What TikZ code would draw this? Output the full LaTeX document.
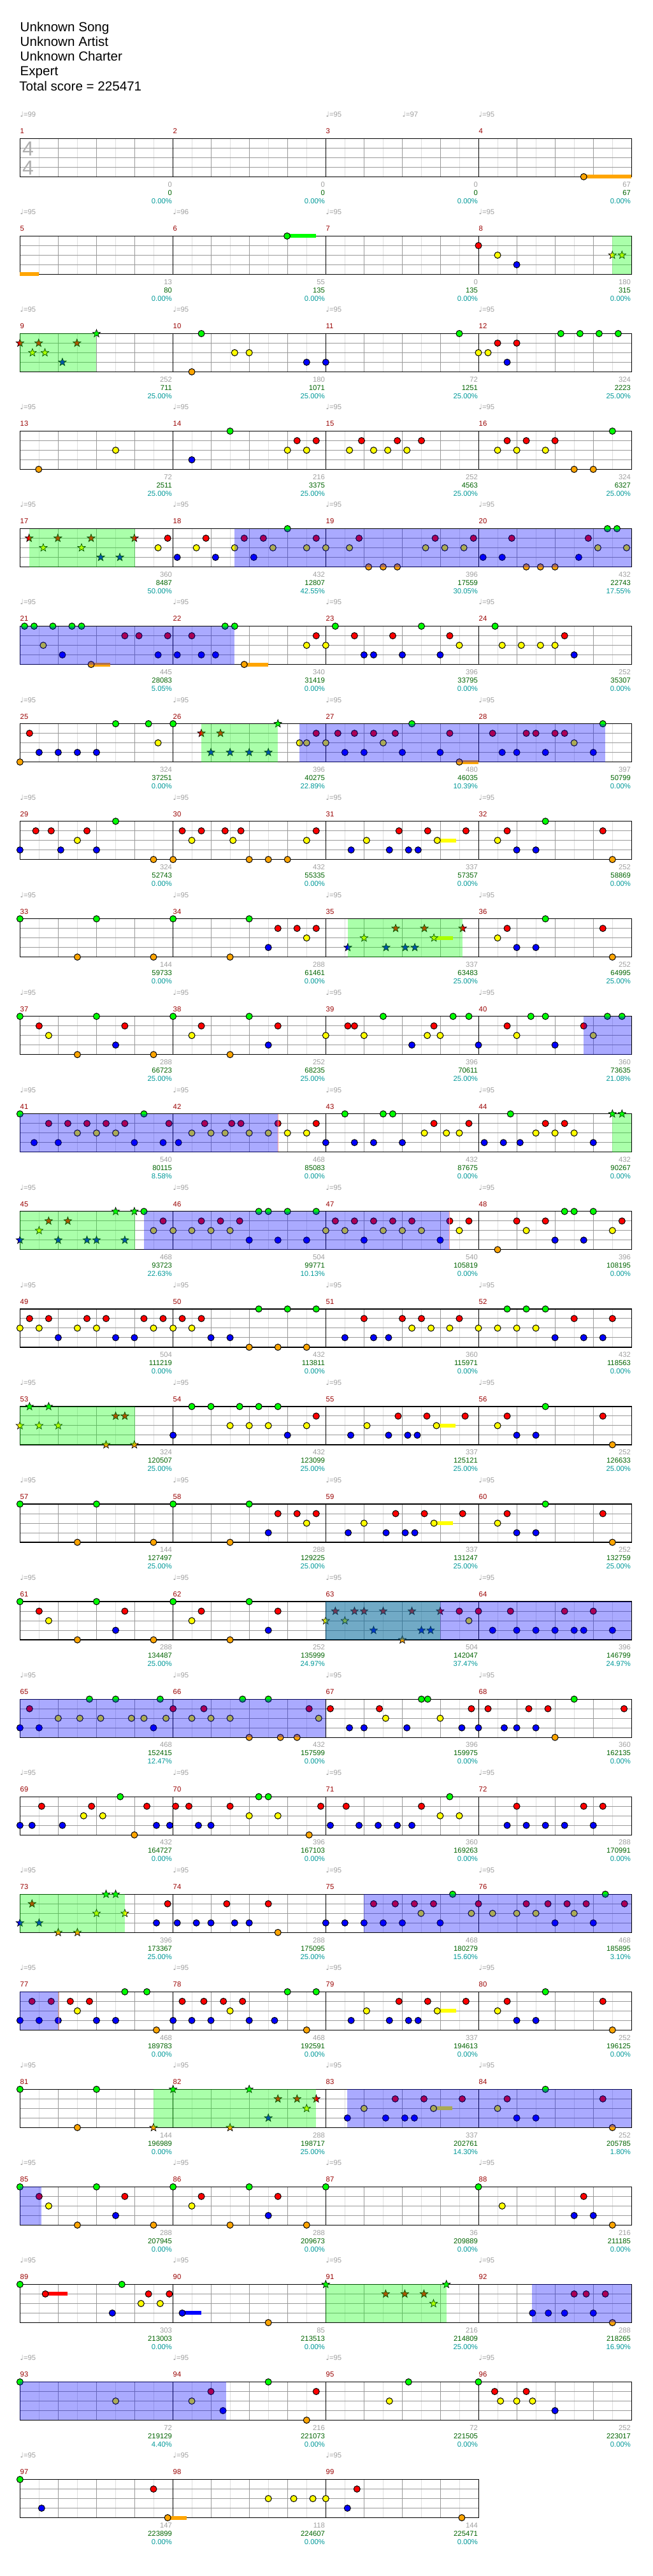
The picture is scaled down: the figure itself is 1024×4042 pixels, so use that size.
\documentclass[tikz,border=0pt]{standalone}
\usepackage{fontspec}
\setmainfont{Liberation Sans}
\newfontfamily\djv{DejaVu Sans}
\usetikzlibrary{shapes.geometric}
\definecolor{lane1}{RGB}{0,255,0}
\definecolor{lane2}{RGB}{255,0,0}
\definecolor{lane3}{RGB}{255,255,0}
\definecolor{lane4}{RGB}{0,0,255}
\definecolor{lane5}{RGB}{255,165,0}
\definecolor{mnum}{RGB}{153,0,0}
\definecolor{gtext}{RGB}{160,160,160}
\definecolor{stext}{RGB}{0,100,0}
\definecolor{ptext}{RGB}{0,153,153}
\definecolor{gridq}{RGB}{153,153,153}
\definecolor{gride}{RGB}{222,222,222}
\definecolor{soloend}{RGB}{255,160,160}
\tikzset{
  notehead/.style={draw=black,line width=0.5pt},
  starnote/.style={star,star points=5,star point ratio=2.4,minimum size=6.4pt,inner sep=0pt,draw=black,line width=0.35pt},
  spover/.style={fill=lane1,fill opacity=0.333},
  soloover/.style={fill=lane4,fill opacity=0.333},
  eline/.style={draw=gride,line width=0.5pt},
  qline/.style={draw=gridq,line width=0.5pt},
  measline/.style={draw=black,line width=0.5pt},
  endline/.style={draw=soloend,line width=0.5pt},
  staffborder/.style={draw=black,line width=0.6pt},
  smallfont/.style={inner sep=0pt,font=\fontsize{5.65}{6.5}\selectfont},
  mlab/.style={smallfont,anchor=base west,text=mnum},
  glab/.style={smallfont,anchor=base east,text=gtext},
  slab/.style={smallfont,anchor=base east,text=stext},
  plab/.style={smallfont,anchor=base east,text=ptext},
  tlab/.style={smallfont,anchor=base west,text=gtext},
  titlelab/.style={anchor=base west,inner sep=0pt,font=\fontsize{10.3}{12}\selectfont},
  tsig/.style={inner sep=0pt,text=gtext!85,font=\fontsize{16}{18}\selectfont}
}
\newcommand\setrow[1]{\pgfmathsetmacro\RT{217.3+153.05*(#1-1)}}
\newcommand\XX[1]{(31.33+(#1-48)*0.65306)}
\newcommand\LY[1]{(\RT+15*(#1-1))}
\newcommand\NoteL[2]{\foreach \z in {#2}{\filldraw[notehead,fill=lane#1] ({\XX{\z}},{\LY{#1}}) circle[radius=5];}}
\newcommand\StarL[2]{\foreach \z in {#2}{\node[starnote,fill=lane#1] at ({\XX{\z}},{\LY{#1}}) {};}}
\newcommand\SusL[3]{\fill[lane#3] ({\XX{#1}},{\LY{#3}-3}) rectangle ({\XX{#2}},{\LY{#3}+3});}
\newcommand\SPreg[2]{\fill[spover] ({\XX{#1}},{\RT}) rectangle ({\XX{#2}},{\RT+60});}
\newcommand\SOreg[2]{\fill[soloover] ({\XX{#1}},{\RT}) rectangle ({\XX{#2}},{\RT+60});}
\newcommand\SOend[1]{\draw[endline] ({\XX{#1}},{\RT+0.5}) -- ({\XX{#1}},{\RT+59.5});}
\newcommand\myGrid[1]{%
  \pgfmathsetmacro\WW{240*#1}%
  \pgfmathtruncatemacro\nk{8*#1-1}%
  \foreach \k in {1,3,...,\nk}{\draw[eline] ({31.33+30*\k},{\RT}) -- ++(0,60);}
  \foreach \k in {2,4,...,\nk}{\draw[qline] ({31.33+30*\k},{\RT}) -- ++(0,60);}
  \foreach \l in {1,2,3}{\draw[qline] (31.33,{\RT+15*\l}) -- ++(\WW,0);}
  \pgfmathtruncatemacro\nm{#1-1}%
  \foreach \k in {1,...,\nm}{\draw[measline] ({31.33+240*\k},{\RT}) -- ++(0,60);}
  \draw[staffborder] (31.33,{\RT}) rectangle ++(\WW,60);
}
\newcommand\myLabels[2]{%
  \foreach \g/\s/\p [count=\i from 0] in {#2}{%
    \pgfmathtruncatemacro\mm{#1+\i}%
    \node[mlab] (mn\mm) at ({31.33+240*\i},{\RT-7.6}) {\mm};
    \node[glab] (gs\mm) at ({30.3+240*(\i+1)},{\RT+75.8}) {\g};
    \node[slab] (sc\mm) at ({30.3+240*(\i+1)},{\RT+88.8}) {\s};
    \node[plab] (pc\mm) at ({30.3+240*(\i+1)},{\RT+101.8}) {\p\%};
  }}
\newcommand\myTempo[2]{\foreach \tx/\tv [count=\j] in {#2}{\node[tlab] (tp#1-\j) at ({31.33+\tx},{\RT-33.6}) {{\djv ♩}=\tv};}}
\begin{document}
\begin{tikzpicture}[x=0.5pt,y=-0.5pt]
\useasboundingbox (0,0) rectangle (1024,4042);
\fill[white] (0,0) rectangle (1024,4042);
\node[titlelab] (t1) at (31.3,49) {Unknown Song};
\node[titlelab] (t2) at (31.3,72.3) {Unknown Artist};
\node[titlelab] (t3) at (31.3,95.6) {Unknown Charter};
\node[titlelab] (t4) at (31.3,118.9) {Expert};
\node[titlelab] (t5) at (30,142.2) {Total score = 225471};
% ---------- row 1
\setrow{1}\myGrid{4}
\node[tsig] (ts1) at (44,233.5) {4};
\node[tsig] (ts2) at (44,263.5) {4};
\SusL{1403}{1518}{5}\NoteL{5}{1403}
\myTempo{1}{0/99,480/95,600/97,720/95}
\myLabels{1}{0/0/0.00,0/0/0.00,0/0/0.00,67/67/0.00}
% ---------- row 2
\setrow{2}\myGrid{4}
\SusL{48}{93}{5}\SusL{690}{759}{1}
\NoteL{1}{690}\NoteL{2}{1150}\NoteL{3}{1196}\NoteL{4}{1242}
\StarL{3}{1472,1495}\SPreg{1472}{1518}
\myTempo{2}{0/95,240/96,480/95,720/95}
\myLabels{5}{13/80/0.00,55/135/0.00,0/135/0.00,180/315/0.00}
% ---------- row 3
\setrow{3}\myGrid{4}
\NoteL{1}{484,1104,1348,1394,1440,1486}\NoteL{5}{461}\NoteL{3}{564,599,1150,1173}
\NoteL{4}{737,783,1219}\NoteL{2}{1196,1242}
\StarL{2}{48,93,185}\StarL{3}{78,108}\StarL{4}{150}\StarL{1}{232}
\SPreg{48}{232}
\myTempo{3}{0/95,240/95,480/95,720/95}
\myLabels{9}{252/711/25.00,180/1071/25.00,72/1251/25.00,324/2223/25.00}
% ---------- row 4
\setrow{4}\myGrid{4}
\NoteL{5}{93,1380,1426}\NoteL{3}{278,691,737,840,898,932,978,1196,1242,1311}
\NoteL{4}{461}\NoteL{1}{553,1472}\NoteL{2}{714,760,869,955,1013,1219,1265,1334}
\myTempo{4}{0/95,240/95,480/95,720/95}
\myLabels{13}{72/2511/25.00,216/3375/25.00,252/4563/25.00,324/6327/25.00}
% ---------- row 5
\setrow{5}\myGrid{4}
\NoteL{2}{403,495,587,633,760,863,1046,1138,1230,1414}
\NoteL{3}{380,472,564,656,737,783,840,1023,1069,1115,1437,1506}
\NoteL{4}{426,518,610,1161,1207,1391}\NoteL{1}{691,1460,1483}
\NoteL{5}{886,921,955,1265,1299,1334}
\StarL{2}{70,139,219,323}\StarL{3}{104,196}\StarL{4}{242,288}
\SPreg{70}{324}\SOreg{564}{1518}
\myTempo{5}{0/95,240/95,480/95,720/95}
\myLabels{17}{360/8487/50.00,432/12807/42.55,396/17559/30.05,432/22743/17.55}
% ---------- row 6
\setrow{6}\myGrid{4}
\SusL{219}{265}{5}\SusL{587}{645}{5}
\NoteL{1}{59,82,127,173,196,541,564,806,1013,1190}
\NoteL{3}{104,737,783,1104,1207,1253,1299,1334}
\NoteL{4}{150,380,426,484,518,875,898,967,1058,1380}
\NoteL{5}{219,587}\NoteL{2}{300,334,403,461,760,852,944,1081,1357}
\SOreg{48}{564}
\myTempo{6}{0/95,240/95,480/95,720/95}
\myLabels{21}{445/28083/5.05,340/31419/0.00,396/33795/0.00,252/35307/0.00}
% ---------- row 7
\setrow{7}\myGrid{4}
\SusL{1104}{1150}{5}
\NoteL{5}{48,1104}
\NoteL{2}{71,760,812,852,898,950,1081,1184,1265,1288,1334,1357}
\NoteL{4}{94,140,186,232,829,875,967,1058,1207,1242,1311,1426}
\NoteL{1}{278,357,416,990,1449}\NoteL{3}{380,720,737,783,921,1380}
\StarL{2}{484,530}\StarL{4}{507,553,599,645}\StarL{1}{668}
\SPreg{484}{668}\SOreg{720}{1455}
\myTempo{7}{0/95,240/95,480/95,720/95}
\myLabels{25}{324/37251/0.00,396/40275/22.89,480/46035/10.39,397/50799/0.00}
% ---------- row 8
\setrow{8}\myGrid{4}
\SusL{1051}{1096}{3}
\NoteL{2}{86,123,209,438,484,541,579,760,959,1028,1120,1219,1449}
\NoteL{4}{48,146,232,844,936,982,1005,1242,1288}
\NoteL{3}{186,461,560,737,881,1051,1196}\NoteL{1}{278,1311}
\NoteL{5}{369,416,599,645,691,1472}
\myTempo{8}{0/95,240/95,480/95,720/95}
\myLabels{29}{324/52743/0.00,432/55335/0.00,337/57357/0.00,252/58869/0.00}
% ---------- row 9
\setrow{9}\myGrid{4}
\SusL{1043}{1089}{3}
\NoteL{1}{48,232,416,599,1311}\NoteL{5}{186,369,553,1472}
\NoteL{2}{668,714,760,1219,1449}\NoteL{3}{737,1196}\NoteL{4}{645,1242,1288}
\StarL{4}{836,928,974,997}\StarL{3}{875,1043}\StarL{2}{951,1020,1112}
\SPreg{836}{1112}
\myTempo{9}{0/95,240/95,480/95,720/95}
\myLabels{33}{144/59733/0.00,288/61461/0.00,337/63483/25.00,252/64995/25.00}
% ---------- row 10
\setrow{10}\myGrid{4}
\NoteL{1}{48,232,416,599,921,1089,1127,1276,1311,1460,1495}
\NoteL{2}{94,300,484,668,836,852,1043,1219,1403}
\NoteL{3}{117,461,783,875,1027,1058,1242,1426}
\NoteL{4}{278,645,990,1150,1334}\NoteL{5}{186,369,553}
\SOreg{1402}{1518}
\myTempo{10}{0/95,240/95,480/95,720/95}
\myLabels{37}{288/66723/25.00,252/68235/25.00,396/70611/25.00,360/73635/21.08}
% ---------- row 11
\setrow{11}\myGrid{4}
\NoteL{1}{48,346,829,921,944,1227}
\NoteL{2}{117,163,209,255,300,406,492,557,579,668,760,1043,1127,1311,1357}
\NoteL{3}{186,232,278,461,507,541,599,645,691,737,1020,1073,1104,1288,1334,1380}
\NoteL{4}{82,140,323,392,429,783,852,898,967,1164,1210,1250,1426}
\StarL{1}{1472,1495}
\SOreg{48}{668}\SPreg{1472}{1518}\SOend{668}
\myTempo{11}{0/95,240/95,480/95,720/95}
\myLabels{41}{540/80115/8.58,468/85083/0.00,432/87675/0.00,432/90267/0.00}
% ---------- row 12
\setrow{12}\myGrid{4}
\NoteL{1}{346,622,645,691,760,1357,1380,1426}
\NoteL{2}{392,484,530,576,806,852,898,944,990,1081,1127,1242,1311,1495}
\NoteL{3}{369,416,461,507,553,783,829,921,967,1013,1104,1265,1472}
\NoteL{4}{599,668,737,875,1058,1334,1403}\NoteL{5}{1196}
\StarL{4}{48,140,209,232,300}\StarL{3}{94}\StarL{2}{117,163}\StarL{1}{278,323}
\SPreg{48}{324}\SOreg{346}{1081}\SOend{1081}
\myTempo{12}{0/95,240/95,480/95,720/95}
\myLabels{45}{468/93723/22.63,504/99771/10.13,540/105819/0.00,396/108195/0.00}
% ---------- row 13
\setrow{13}\myGrid{4}
\NoteL{3}{48,94,186,232,369,416,461,990,1036,1081,1150,1196,1242,1288}
\NoteL{2}{71,117,209,255,346,392,438,484,875,967,1013,1104,1380,1472}
\NoteL{4}{140,278,323,507,553,829,898,934,1334,1403,1449}
\NoteL{5}{599,668,737}\NoteL{1}{622,691,760,1219,1265,1311}
\myTempo{13}{0/95,240/95,480/95,720/95}
\myLabels{49}{504/111219/0.00,432/113811/0.00,360/115971/0.00,432/118563/0.00}
% ---------- row 14
\setrow{14}\myGrid{4}
\SusL{1049}{1095}{3}
\NoteL{4}{416,691,843,934,980,1003,1242,1288}\NoteL{1}{461,507,576,622,668,1311}
\NoteL{3}{553,599,645,737,882,1049,1196}\NoteL{2}{760,957,1026,1118,1219,1449}
\NoteL{5}{1472}
\StarL{1}{71,117}\StarL{3}{48,94,140}\StarL{2}{278,300}\StarL{5}{255,323}
\SPreg{48}{324}
\myTempo{14}{0/95,240/95,480/95,720/95}
\myLabels{53}{324/120507/25.00,432/123099/25.00,337/125121/25.00,252/126633/25.00}
% ---------- row 15
\setrow{15}\myGrid{4}
\SusL{1043}{1089}{3}
\NoteL{1}{48,232,416,599,1311}\NoteL{5}{186,369,553,1472}
\NoteL{2}{668,714,760,951,1020,1112,1219,1449}\NoteL{3}{737,875,1043,1196}
\NoteL{4}{645,837,928,974,997,1242,1288}
\myTempo{15}{0/95,240/95,480/95,720/95}
\myLabels{57}{144/127497/25.00,288/129225/25.00,337/131247/25.00,252/132759/25.00}
% ---------- row 16
\setrow{16}\myGrid{4}
\NoteL{1}{48,232,416,599}\NoteL{2}{94,300,484,668,1104,1150,1227,1357,1426}
\NoteL{3}{117,461,1127}\NoteL{4}{278,645,1184,1242,1288,1334,1380,1403,1472}
\NoteL{5}{186,369,553}
\StarL{2}{806,852,875,921,990,1058}\StarL{3}{783,829}\StarL{4}{898,1013,1035}\StarL{5}{967}
\SPreg{783}{1058}\SOreg{783}{1518}
\myTempo{16}{0/95,240/95,480/95,720/95}
\myLabels{61}{288/134487/25.00,252/135999/24.97,504/142047/37.47,396/146799/24.97}
% ---------- row 17
\setrow{17}\myGrid{4}
\NoteL{1}{215,278,385,583,645,1013,1028,1380}
\NoteL{2}{71,416,490,743,794,912,1133,1173,1271,1317,1500}
\NoteL{3}{140,192,242,316,346,399,461,507,553,766,927,1058}
\NoteL{4}{48,94,369,840,875,978,1110,1150,1212,1242,1288}
\NoteL{5}{599,674,714,1334}
\SOreg{48}{783}
\myTempo{17}{0/95,240/95,480/95,720/95}
\myLabels{65}{468/152415/12.47,432/157599/0.00,396/159975/0.00,360/162135/0.00}
% ---------- row 18
\setrow{18}\myGrid{4}
\NoteL{4}{48,77,150,376,408,477,507,794,863,909,955,990,1219,1265,1311,1357,1426}
\NoteL{2}{100,220,353,422,454,553,771,832,1013,1242,1403,1449}
\NoteL{3}{201,247,599,668,1058,1104}\NoteL{1}{289,622,645,1081}\NoteL{5}{323,743}
\myTempo{18}{0/95,240/95,480/95,720/95}
\myLabels{69}{432/164727/0.00,396/167103/0.00,360/169263/0.00,288/170991/0.00}
% ---------- row 19
\setrow{19}\myGrid{4}
\NoteL{2}{403,545,645,898,950,996,1042,1150,1265,1317,1363,1409,1501}
\NoteL{4}{376,426,472,507,564,599,783,829,875,921,967,1058,1334,1426}
\NoteL{5}{668}\NoteL{3}{1012,1133,1184,1242,1288,1380}\NoteL{1}{1088,1455}
\StarL{4}{48,94}\StarL{2}{77}\StarL{5}{140,186}\StarL{3}{232,300}\StarL{1}{255,278}
\SPreg{48}{300}\SOreg{875}{1518}
\myTempo{19}{0/95,240/95,480/95,720/95}
\myLabels{73}{396/173367/25.00,288/175095/25.00,468/180279/15.60,468/185895/3.10}
% ---------- row 20
\setrow{20}\myGrid{4}
\SusL{1051}{1096}{3}
\NoteL{2}{77,123,169,215,438,490,537,583,959,1028,1120,1219,1449}
\NoteL{4}{48,94,140,232,278,416,461,507,599,660,844,936,982,1005,1242,1288}
\NoteL{3}{186,553,881,1051,1196}\NoteL{1}{300,353,691,760,1311}\NoteL{5}{376,737,1472}
\SOreg{48}{140}\SOend{141}
\myTempo{20}{0/95,240/95,480/95,720/95}
\myLabels{77}{468/189783/0.00,468/192591/0.00,337/194613/0.00,252/196125/0.00}
% ---------- row 21
\setrow{21}\myGrid{4}
\SusL{1042}{1087}{3}
\NoteL{1}{48,232,1311}\NoteL{5}{186,1472}
\NoteL{4}{835,927,973,996,1242,1288}\NoteL{3}{875,1042,1196}\NoteL{2}{950,1019,1111,1219,1449}
\StarL{5}{369,553}\StarL{1}{416,599}\StarL{2}{668,714,760}\StarL{3}{737}\StarL{4}{645}
\SPreg{369}{760}\SOreg{835}{1518}
\myTempo{21}{0/95,240/95,480/95,720/95}
\myLabels{81}{144/196989/0.00,288/198717/25.00,337/202761/14.30,252/205785/1.80}
% ---------- row 22
\setrow{22}\myGrid{4}
\NoteL{1}{48,232,416,599,783,1150}\NoteL{2}{94,300,484,668,1403}
\NoteL{3}{117,461,1207}\NoteL{4}{278,645,1380,1426}\NoteL{5}{186,369,553,737,1472}
\SOreg{48}{100}
\myTempo{22}{0/95,240/95,480/95,720/95}
\myLabels{85}{288/207945/0.00,288/209673/0.00,36/209889/0.00,216/211185/0.00}
% ---------- row 23
\setrow{23}\myGrid{4}
\SusL{109}{162}{2}\SusL{438}{484}{4}
\NoteL{1}{48,293}\NoteL{2}{109,357,407,1380,1409,1455}\NoteL{3}{339,385}
\NoteL{4}{270,438,1280,1318,1357,1426}\NoteL{5}{645,1472}
\StarL{1}{783,1073}\StarL{2}{927,973,1019}\StarL{3}{1042}
\SPreg{783}{1073}\SOreg{1279}{1518}
\myTempo{23}{0/95,240/95,480/95,720/95}
\myLabels{89}{303/213003/0.00,85/213513/0.00,216/214809/25.00,288/218265/16.90}
% ---------- row 24
\setrow{24}\myGrid{4}
\NoteL{1}{48,645,982,1150}\NoteL{3}{278,461,936,1203,1242,1280}
\NoteL{2}{507,760,1189,1265}\NoteL{4}{536,1334}\NoteL{5}{737}
\SOreg{48}{544}
\myTempo{24}{0/95,240/95,480/95,720/95}
\myLabels{93}{72/219129/4.40,216/221073/0.00,72/221505/0.00,252/223017/0.00}
% ---------- row 25
\setrow{25}\myGrid{3}
\SusL{403}{449}{5}
\NoteL{1}{48}\NoteL{4}{100,835}\NoteL{2}{369,858}\NoteL{5}{403,1110}\NoteL{3}{645,706,752,783}
\myTempo{25}{0/95,240/95,480/95}
\myLabels{97}{147/223899/0.00,118/224607/0.00,144/225471/0.00}
\end{tikzpicture}
\end{document}
